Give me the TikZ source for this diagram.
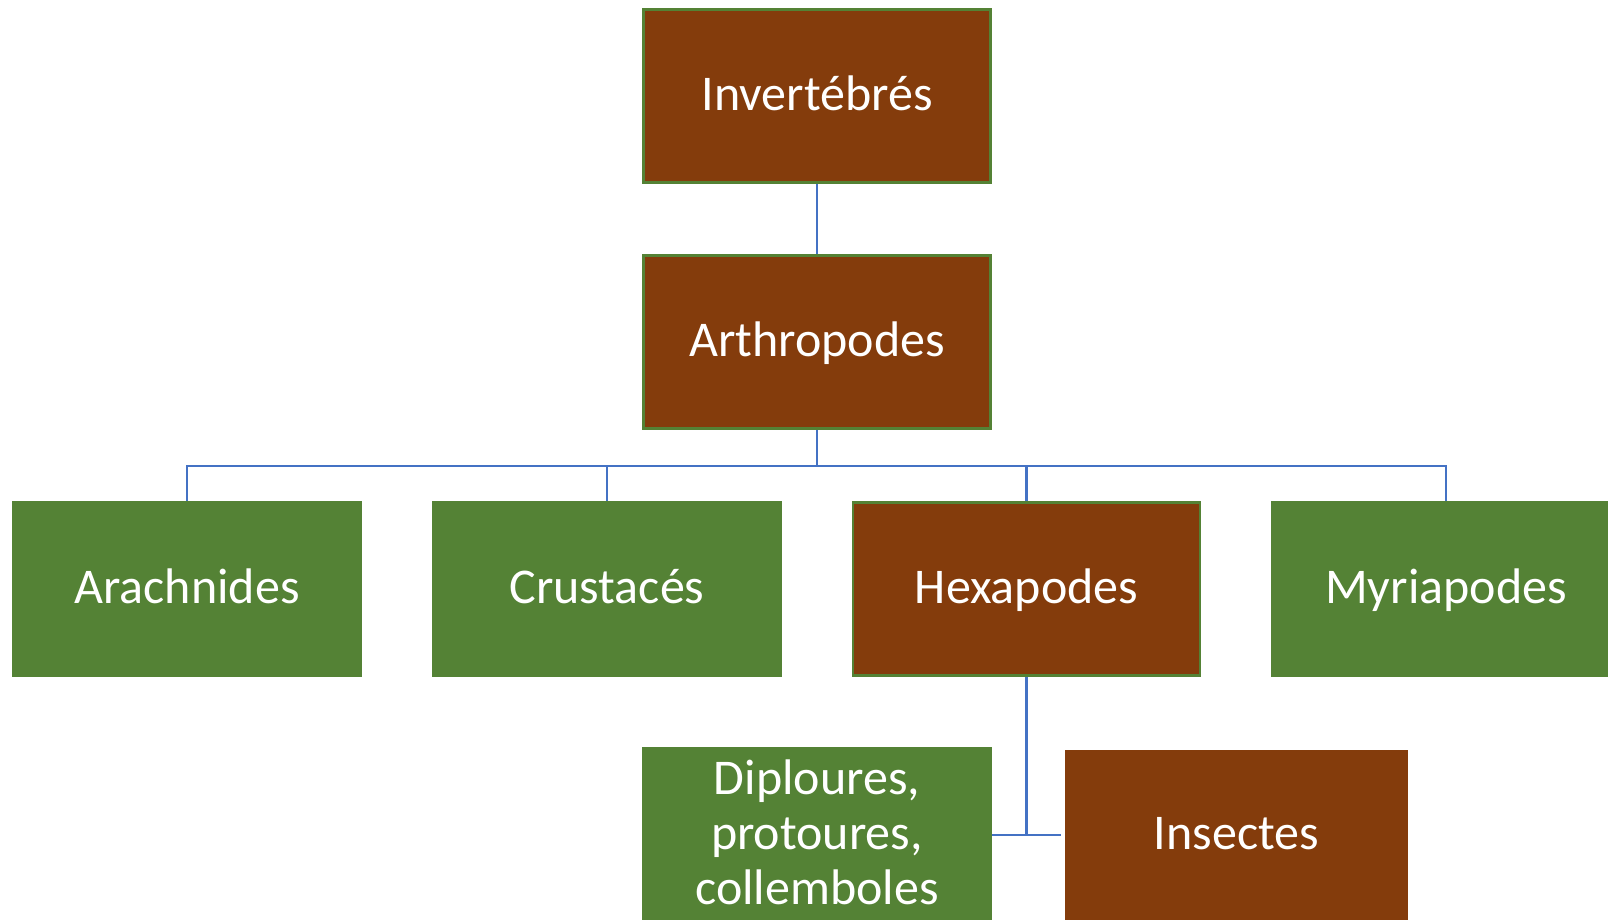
\documentclass[tikz,border=0pt]{standalone}
\usepackage{fontspec}
\setmainfont{Carlito}
\definecolor{brownfill}{HTML}{843C0C}
\definecolor{greenfill}{HTML}{548235}
\definecolor{connblue}{HTML}{4472C4}
\tikzset{
  boxfont/.style={font=\fontsize{50}{55}\selectfont},
  box/.style={draw=greenfill, line width=2.5pt, text=white, minimum width=347pt, minimum height=173pt, align=center, inner sep=0pt, boxfont, text height=28pt, text depth=0pt},
  brownbox/.style={box, fill=brownfill},
  greenbox/.style={box, fill=greenfill},
  conn/.style={draw=connblue, line width=2.4pt}
}
\begin{document}
\begin{tikzpicture}[x=1pt,y=-1pt]
\useasboundingbox (0,0) rectangle (1608,919);
\node[brownbox] (inv) at (817,96) {Invertébrés};
\node[brownbox] (arth) at (817,342) {Arthropodes};
\node[greenbox] (arach) at (187,589) {Arachnides};
\node[greenbox] (crust) at (607,589) {Crustacés};
\node[brownbox] (hexa) at (1026.5,589) {Hexapodes};
\node[greenbox] (myria) at (1446,589) {Myriapodes};
\node[greenbox, label={[text=white, align=center, boxfont, yshift=3pt]center:{Diploures,\\protoures,\\collemboles}}] (diplo) at (817,835) {};
\node[brownbox, draw=none, minimum width=343pt, minimum height=170pt] (insect) at (1236.5,835) {Insectes};
\coordinate (bus) at (817,466);
\draw[conn] (inv.south) -- (arth.north);
\draw[conn] (arth.south) -- (bus);
\draw[conn] (bus) -| (arach.north);
\draw[conn] (bus) -| (crust.north);
\draw[conn] (bus) -| (hexa.north);
\draw[conn] (bus) -| (myria.north);
\draw[conn] (hexa.south) |- (diplo.east);
\draw[conn, shorten >=3pt] (hexa.south) |- (insect.west);
\end{tikzpicture}
\end{document}
